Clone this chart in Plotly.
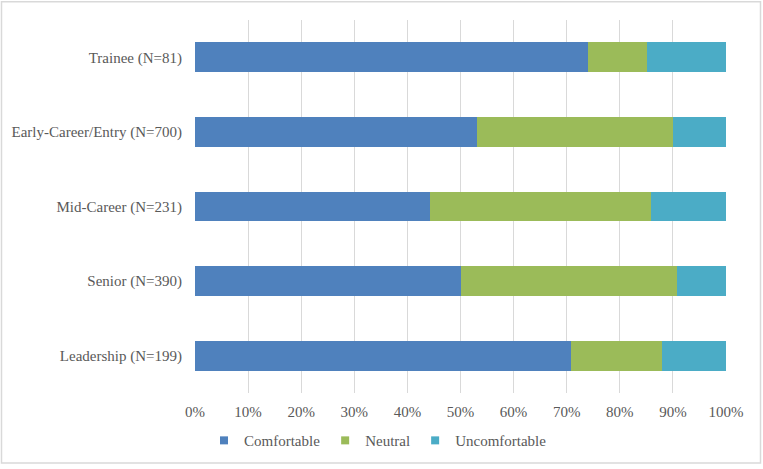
import plotly.graph_objects as go

categories = ["Trainee (N=81)", "Early-Career/Entry (N=700)", "Mid-Career (N=231)",
              "Senior (N=390)", "Leadership (N=199)"]
comfortable = [74.1, 53.1, 44.2, 50.0, 70.9]
neutral = [11.1, 37.0, 41.6, 40.8, 17.0]
uncomfortable = [14.8, 9.9, 14.2, 9.2, 12.1]
tick_vals = [0, 10, 20, 30, 40, 50, 60, 70, 80, 90, 100]
tick_text = [f"{v}%" for v in tick_vals]

series = [("Comfortable", comfortable, "#4F81BD"),
          ("Neutral", neutral, "#9BBB59"),
          ("Uncomfortable", uncomfortable, "#4BACC6")]

fig = go.Figure()
for name, vals, color in series:
    fig.add_trace(go.Bar(y=categories, x=vals, name=name, orientation="h",
                         marker=dict(color=color, line=dict(width=0)),
                         showlegend=False, legendgroup=name))
for name, vals, color in series:
    fig.add_trace(go.Scatter(x=[None], y=[None], mode="markers", name=name,
                             marker=dict(symbol="square", size=8, color=color),
                             legendgroup=name, showlegend=True))

W, H = 763, 469
L, R, T, B = 195, 37, 20, 73
fig.update_layout(
    width=W, height=H, barmode="stack", bargap=0.6,
    margin=dict(l=L, r=R, t=T, b=B),
    paper_bgcolor="white", plot_bgcolor="white",
    font=dict(family="Liberation Serif", size=15, color="#595959"),
    xaxis=dict(range=[0, 100], tickvals=tick_vals, ticktext=tick_text,
               showgrid=True, gridcolor="#D9D9D9", gridwidth=1, zeroline=False,
               ticks="outside", ticklen=5, tickcolor="rgba(0,0,0,0)", showline=False,
               fixedrange=True, tickfont=dict(size=15)),
    yaxis=dict(categoryorder="array", categoryarray=categories[::-1],
               ticks="outside", ticklen=9, tickcolor="rgba(0,0,0,0)",
               showgrid=False, showline=False, fixedrange=True, tickfont=dict(size=15)),
    legend=dict(orientation="h", x=(378 - L) / (W - L - R), xanchor="center",
                y=-(444 - (H - B)) / (H - T - B), yanchor="middle",
                font=dict(size=15, color="#595959"), traceorder="normal",
                itemwidth=30, tracegroupgap=0),
    showlegend=True,
)

pw = W - L - R
ph = H - T - B
fig.add_shape(type="rect", xref="paper", yref="paper",
              x0=(1.5 - L) / pw, x1=(W - 2.5 - L) / pw,
              y0=-(H - 2.5 - (H - B)) / ph, y1=1 + (T - 1.5) / ph,
              line=dict(color="#D9D9D9", width=1.5), fillcolor="rgba(0,0,0,0)", layer="below")

fig.write_html("out.html", config={"displayModeBar": False},
               post_script="document.body.style.margin='0';document.body.style.overflow='hidden';")
